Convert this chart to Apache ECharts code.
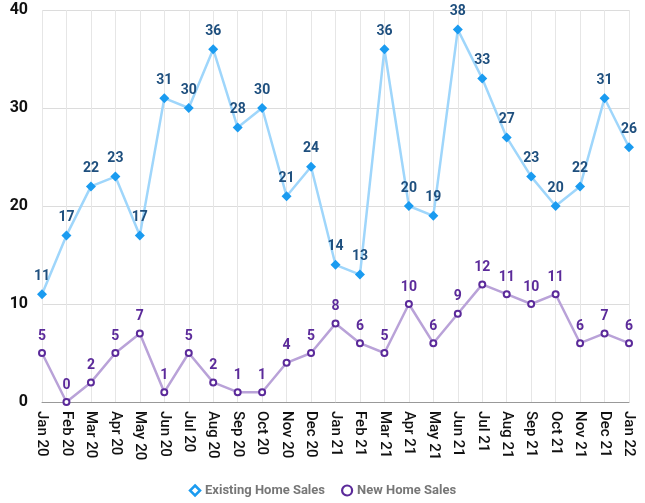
<!DOCTYPE html>
<html><head><meta charset="utf-8">
<script src="https://cdn.jsdelivr.net/npm/echarts@6/dist/echarts.min.js"></script>
<style>html,body{margin:0;padding:0;background:#fff}#c{width:645px;height:503px}</style>
</head><body><div id="c"></div>
<script>
const categories = ["Jan 20","Feb 20","Mar 20","Apr 20","May 20","Jun 20","Jul 20","Aug 20","Sep 20","Oct 20","Nov 20","Dec 20","Jan 21","Feb 21","Mar 21","Apr 21","May 21","Jun 21","Jul 21","Aug 21","Sep 21","Oct 21","Nov 21","Dec 21","Jan 22"];
const existingSales = [11,17,22,23,17,31,30,36,28,30,21,24,14,13,36,20,19,38,33,27,23,20,22,31,26];
const newSales = [5,0,2,5,7,1,5,2,1,1,4,5,8,6,5,10,6,9,12,11,10,11,6,7,6];
const yTicks = [0,10,20,30,40];

const chart = echarts.init(document.getElementById('c'));
chart.setOption({
  animation: false,
  grid: {left: 42, right: 16, top: 10, bottom: 101, containLabel: false},
  legend: {
    bottom: 1, left: 'center', itemGap: 16, itemWidth: 10, itemHeight: 10,
    textStyle: {color: '#777777', fontFamily: 'Roboto', fontWeight: 'bold', fontSize: 13},
    data: [
      {name: 'Existing Home Sales', icon: 'diamond', itemStyle: {color: '#ffffff', borderColor: '#1a9bf0', borderWidth: 2.5}},
      {name: 'New Home Sales', icon: 'circle', itemStyle: {color: '#ffffff', borderColor: '#5b2a9a', borderWidth: 2.2}}
    ]
  },
  xAxis: {
    type: 'category', data: categories, boundaryGap: false,
    axisLine: {lineStyle: {color: '#999', width: 1}},
    axisTick: {show: false},
    splitLine: {show: true, lineStyle: {color: '#e6e6e6', width: 1}},
    axisLabel: {rotate: -90, color: '#111', fontFamily: 'Roboto', fontWeight: 500, fontSize: 15, interval: 0, margin: 9}
  },
  yAxis: {
    type: 'value', min: 0, max: 40, interval: 10,
    axisLine: {show: false}, axisTick: {show: false},
    splitLine: {lineStyle: {color: '#dcdcdc', width: 1}},
    axisLabel: {color: '#111', fontFamily: 'Roboto', fontWeight: 'bold', fontSize: 16, margin: 14,
      formatter: v => yTicks.includes(v) ? String(v) : ''}
  },
  series: [
    {
      name: 'Existing Home Sales', type: 'line', data: existingSales,
      symbol: 'diamond', symbolSize: 10,
      lineStyle: {color: '#9fd6fb', width: 2.5},
      itemStyle: {color: '#1a9bf0', borderWidth: 0},
      label: {show: true, position: 'top', distance: 6, color: '#1e4f7e', fontFamily: 'Roboto', fontWeight: 'bold', fontSize: 14}
    },
    {
      name: 'New Home Sales', type: 'line', data: newSales,
      symbol: 'circle', symbolSize: 6,
      lineStyle: {color: '#b9a2d8', width: 2.5},
      itemStyle: {color: '#ffffff', borderColor: '#5b2a9a', borderWidth: 2},
      label: {show: true, position: 'top', distance: 6, color: '#5b2a9a', fontFamily: 'Roboto', fontWeight: 'bold', fontSize: 14}
    }
  ]
});
</script></body></html>
